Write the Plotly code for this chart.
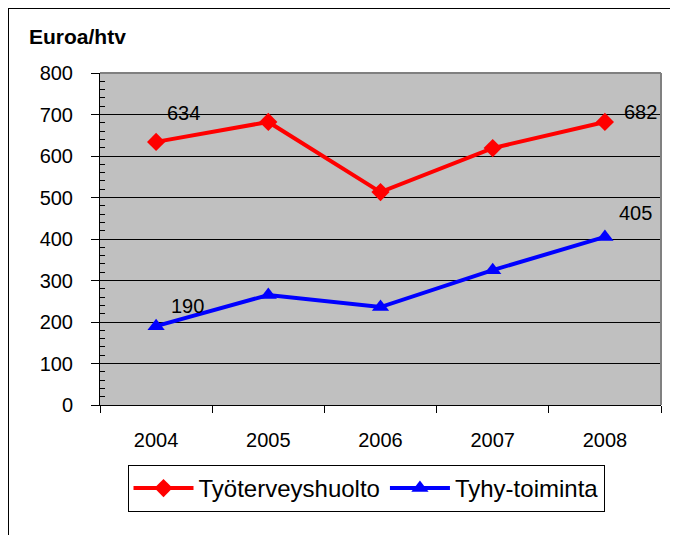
import plotly.graph_objects as go

years = ['2004', '2005', '2006', '2007', '2008']
tyoterveys = [634, 682, 513, 619, 682]
tyhy = [190, 265, 236, 325, 405]
y_ticks = [0, 100, 200, 300, 400, 500, 600, 700, 800]

RED = '#FF0000'
BLUE = '#0000FF'
FONT = 'Liberation Sans, Arial, sans-serif'

# page has an 8px body margin; plot area is at 92..653 x 65..397 in figure px
PL, PR, PT, PB = 92, 653, 65, 397
W, H = 670, 527


def px(x):
    return (x - PL) / (PR - PL)


def py(y):
    return (PB - y) / (PB - PT)


fig = go.Figure()
fig.add_trace(go.Scatter(
    x=years, y=tyoterveys, name='Työterveyshuolto', mode='lines+markers',
    line=dict(color=RED, width=4),
    marker=dict(symbol='diamond', size=14, color=RED)))
fig.add_trace(go.Scatter(
    x=years, y=tyhy, name='Tyhy-toiminta', mode='lines+markers',
    line=dict(color=BLUE, width=4),
    marker=dict(symbol='triangle-up', size=15, color=BLUE)))

# data labels on first and last points, nudged like the Excel original
label_shift = {(0, 0): (27, 29), (0, 4): (36, 10), (1, 0): (31, 20), (1, 4): (31, 24)}
for s, series in enumerate((tyoterveys, tyhy)):
    for i in (0, len(series) - 1):
        dx, dy = label_shift[(s, i)]
        fig.add_annotation(
            x=i, y=series[i], text=str(series[i]), showarrow=False,
            xshift=dx, yshift=dy, font=dict(size=20, color='black', family=FONT))

fig.add_annotation(
    x=px(19), y=py(29), xref='paper', yref='paper',
    text='<b>Euroa/htv</b>', showarrow=False, xanchor='left', yanchor='middle',
    font=dict(size=21, color='black', family=FONT))

# outer chart border
fig.add_shape(type='rect', xref='paper', yref='paper',
              x0=px(0), x1=px(W + 20), y0=py(H + 20), y1=py(0),
              line=dict(color='black', width=2), layer='below')
# plot area border top/right
fig.add_shape(type='line', xref='paper', yref='paper', x0=0, x1=1, y0=1, y1=1,
              line=dict(color='#808080', width=2))
fig.add_shape(type='line', xref='paper', yref='paper', x0=1, x1=1, y0=0, y1=1,
              line=dict(color='#808080', width=2))

fig.update_layout(
    width=W, height=H,
    margin=dict(l=PL, r=W - PR, t=PT, b=H - PB),
    paper_bgcolor='white', plot_bgcolor='#C0C0C0',
    font=dict(family=FONT, size=20, color='black'),
    showlegend=True,
    legend=dict(orientation='h', x=px(358), xanchor='center',
                y=py(457), yanchor='top',
                bordercolor='black', borderwidth=1, bgcolor='white',
                font=dict(size=24, family=FONT), itemwidth=60),
    xaxis=dict(type='category', range=[-0.5, 4.5], showgrid=False,
               showline=True, linecolor='black', linewidth=1,
               ticks='outside', ticklen=7, tickcolor='black',
               tickson='boundaries', ticklabelstandoff=17,
               tickfont=dict(size=20)),
    yaxis=dict(range=[0, 800], tickvals=y_ticks, showgrid=True,
               gridcolor='black', gridwidth=1, zeroline=False,
               showline=True, linecolor='black', linewidth=1,
               ticks='outside', ticklen=8, tickcolor='black',
               ticklabelstandoff=14, tickfont=dict(size=20),
               minor=dict(dtick=20, ticks='inside', ticklen=5,
                          tickcolor='black', showgrid=False)),
)

fig.write_html('out.html')
